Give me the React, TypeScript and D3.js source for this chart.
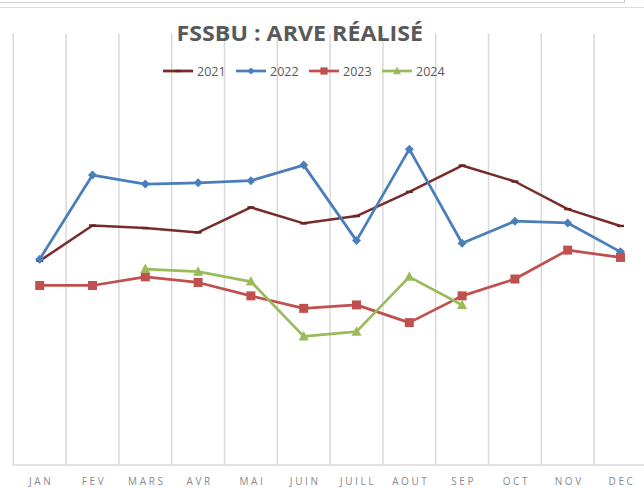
import React from "react";
import * as d3 from "d3";

const months = ["JAN", "FEV", "MARS", "AVR", "MAI", "JUIN", "JUILL", "AOUT", "SEP", "OCT", "NOV", "DEC"];
const s2021 = [47.3, 55.5, 54.9, 53.9, 59.7, 56.0, 57.7, 63.3, 69.4, 65.7, 59.3, 55.4];
const s2022 = [47.7, 67.2, 65.1, 65.4, 65.9, 69.5, 52.0, 73.2, 51.4, 56.5, 56.1, 49.4];
const s2023 = [41.6, 41.6, 43.6, 42.3, 39.2, 36.3, 37.1, 33.0, 39.2, 43.1, 49.8, 48.1];
const s2024: (number | null)[] = [null, null, 45.4, 44.8, 42.5, 29.8, 30.9, 43.6, 37.1, null, null, null];
const seriesNames = ["2021", "2022", "2023", "2024"];
const title = "FSSBU : ARVE RÉALISÉ";

const W = 644;
const H = 488;

const colors = ["#772c2a", "#4a7ebb", "#c0504d", "#9bbb59"];
const markers = ["dash", "diamond", "square", "triangle"];

function Marker({ type, x, y, color, scale = 1 }: { type: string; x: number; y: number; color: string; scale?: number }) {
  if (type === "dash") {
    return <rect x={x - 3.5 * scale} y={y - 1.2} width={7 * scale} height={2.4} fill="#6a2523" />;
  }
  if (type === "diamond") {
    const r = 4.5 * scale;
    return <path d={`M${x},${y - r}L${x + r},${y}L${x},${y + r}L${x - r},${y}Z`} fill={color} />;
  }
  if (type === "square") {
    const s = 9 * scale;
    return <rect x={x - s / 2} y={y - s / 2} width={s} height={s} fill={color} />;
  }
  const r = 5 * scale;
  return <path d={`M${x},${y - r * 1.1}L${x + r},${y + r * 0.8}L${x - r},${y + r * 0.8}Z`} fill={color} />;
}

export default function App() {
  const x = d3.scaleBand<string>().domain(months).range([13.3, 646.9]);
  const y = d3.scaleLinear().domain([0, 100]).range([465, 33.5]);
  const all = [s2021, s2022, s2023, s2024];
  const line = d3
    .line<number | null>()
    .defined((d) => d !== null)
    .x((_, i) => (x(months[i]) as number) + x.bandwidth() / 2)
    .y((d) => y(d as number));

  const legendX = [163, 236, 309, 382];
  const legendY = 71;

  return (
    <svg width={W} height={H} style={{ position: "fixed", left: 0, top: 0, background: "#fff" }}>
      <rect x={0} y={0} width={W} height={H} fill="#fff" />
      <line x1={0} x2={624} y1={2.5} y2={2.5} stroke="#d4d4d4" strokeWidth={1} />
      <line x1={624.5} x2={624.5} y1={0} y2={3} stroke="#c8c8c8" strokeWidth={1} />
      <line x1={0} x2={W} y1={7.5} y2={7.5} stroke="#dcdcdc" strokeWidth={1} />
      {months.map((m) => (
        <line
          key={m}
          x1={(x(m) as number)}
          x2={(x(m) as number)}
          y1={y(100)}
          y2={y(0)}
          stroke="#d9d9d9"
          strokeWidth={1.5}
        />
      ))}
      <line x1={x(months[0]) as number} x2={W} y1={y(0)} y2={y(0)} stroke="#d9d9d9" strokeWidth={1.5} />
      {months.map((m) => (
        <text
          key={m}
          x={(x(m) as number) + x.bandwidth() / 2 + 1.5}
          y={485}
          textAnchor="middle"
          fontFamily="Open Sans, sans-serif"
          fontSize={10}
          letterSpacing={2.6}
          fill="#8a8a8a"
        >
          {m}
        </text>
      ))}
      <text
        x={176.5}
        y={41}
        textLength={246.5}
        lengthAdjust="spacingAndGlyphs"
        fontFamily="Open Sans, sans-serif"
        fontWeight={700}
        fontSize={22}
        fill="#595959"
      >
        {title}
      </text>
      {all.map((s, k) => (
        <g key={k}>
          <path d={line(s) || ""} fill="none" stroke={colors[k]} strokeWidth={k === 0 ? 2.5 : 2.75} strokeLinejoin="round" />
          {s.map((v, i) =>
            v === null ? null : (
              <Marker
                key={i}
                type={markers[k]}
                x={(x(months[i]) as number) + x.bandwidth() / 2}
                y={y(v)}
                color={colors[k]}
              />
            )
          )}
        </g>
      ))}
      {seriesNames.map((n, k) => (
        <g key={n}>
          <line x1={legendX[k]} x2={legendX[k] + 30} y1={legendY} y2={legendY} stroke={colors[k]} strokeWidth={2.75} />
          <Marker type={markers[k]} x={legendX[k] + 15} y={legendY} color={colors[k]} scale={0.8} />
          <text
            x={legendX[k] + 34}
            y={legendY + 4.5}
            fontFamily="Open Sans, sans-serif"
            fontSize={12.5}
            fill="#595959"
          >
            {n}
          </text>
        </g>
      ))}
    </svg>
  );
}
